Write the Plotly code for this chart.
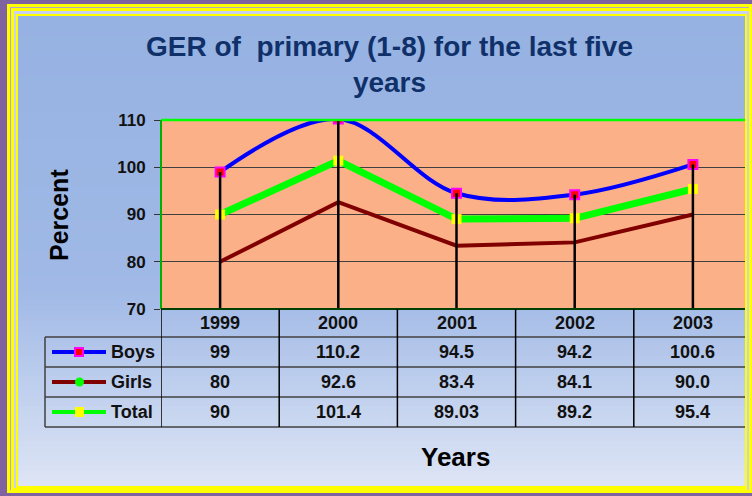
import plotly.graph_objects as go

years = ["1999", "2000", "2001", "2002", "2003"]
boys_txt = ["99", "110.2", "94.5", "94.2", "100.6"]
girls_txt = ["80", "92.6", "83.4", "84.1", "90.0"]
total_txt = ["90", "101.4", "89.03", "89.2", "95.4"]
y_ticks = [70, 80, 90, 100, 110]

boys = [float(v) for v in boys_txt]
girls = [float(v) for v in girls_txt]
total = [float(v) for v in total_txt]

FONT = "Arial, Liberation Sans, sans-serif"
W, H = 752, 496
L, T, R, B = 161, 120, 0, 187
PW, PH = W - L - R, H - T - B


def px(x):
    return (x - L) / PW


def py(y):
    return (H - B - y) / PH


shapes = []


def rect(x0, y0, x1, y1, fill, layer="below", line=None):
    shapes.append(dict(
        type="rect", xref="paper", yref="paper",
        x0=px(x0), x1=px(x1), y0=py(y1), y1=py(y0),
        fillcolor=fill, layer=layer,
        line=line or dict(width=0),
    ))


def seg(x0, y0, x1, y1, color, width, layer="above"):
    shapes.append(dict(
        type="line", xref="paper", yref="paper",
        x0=px(x0), x1=px(x1), y0=py(y0), y1=py(y1),
        line=dict(color=color, width=width), layer=layer,
    ))


# frame
rect(7, 4, 760, 493, "#ffff00")
rect(10, 7, 749, 490, "#b4a8c8")
rect(11, 8, 749, 490, "#ffff00")
rect(14, 11, 747, 488, "#c8d2ee")
rect(16, 14, 747, 488, "#ffff00")

# background gradient
stops = [(16, (150, 178, 226)), (290, (160, 185, 230)), (486, (222, 229, 245))]


def grad(y):
    for (ya, ca), (yb, cb) in zip(stops[:-1], stops[1:]):
        if y <= yb:
            t = (y - ya) / (yb - ya)
            return "rgb(%d,%d,%d)" % tuple(round(a + (b - a) * t) for a, b in zip(ca, cb))
    return "rgb(%d,%d,%d)" % stops[-1][1]


for y in range(16, 486, 5):
    rect(18, y, 745, min(y + 5, 486), grad(y + 2.5))

# plot area
rect(161, 120, 745, 309, "#fcb088")

fig = go.Figure()

fig.add_trace(go.Scatter(
    x=years, y=girls, mode="lines",
    line=dict(color="#800000", width=4),
))
fig.add_trace(go.Scatter(
    x=years, y=total, mode="lines+markers",
    line=dict(color="#00ff00", width=7),
    marker=dict(symbol="square", size=10, color="#ffff00"),
))
fig.add_trace(go.Scatter(
    x=years, y=boys, mode="lines+markers",
    line=dict(color="#0000ff", width=4, shape="spline"),
    marker=dict(symbol="square", size=9, color="#ff0000",
                line=dict(color="#ff00ff", width=2)),
))

# drop lines
dx, dy = [], []
for i, yr in enumerate(years):
    dx += [yr, yr, None]
    dy += [max(boys[i], girls[i], total[i]), y_ticks[0], None]
fig.add_trace(go.Scatter(
    x=dx, y=dy, mode="lines",
    line=dict(color="#000000", width=2.5),
))

# plot border
seg(161, 120, 745, 120, "#00ff00", 2.5)
seg(161, 120, 161, 309, "#00b000", 2)
seg(161, 309, 745, 309, "#004000", 2)

# data table lines
row_lines = [337, 367, 397, 427]
for yl in row_lines:
    seg(45, yl, 745, yl, "#404040", 1.5)
seg(45, 337, 45, 427, "#404040", 1.5)
for k in range(len(years)):
    shapes.append(dict(
        type="line", xref="x", yref="paper",
        x0=k - 0.5, x1=k - 0.5, y0=py(309), y1=py(427),
        line=dict(color="#000000", width=1.5), layer="above",
    ))

annotations = []
row_y = [352, 382, 412]
row_names = ["Boys", "Girls", "Total"]
row_text = [boys_txt, girls_txt, total_txt]
key_line = ["#0000ff", "#800000", "#00ff00"]
cell_font = dict(family=FONT, size=18, color="#111111", weight="bold")


def note(x, y, text, font, xref="paper", **kw):
    annotations.append(dict(
        x=x, xref=xref, y=y, yref="paper", text=text, showarrow=False,
        xanchor=kw.pop("xanchor", "center"), yanchor="middle", font=font, **kw,
    ))


for i, yr in enumerate(years):
    note(i, py(323), yr, cell_font, xref="x")

for name, vals, yc, lc in zip(row_names, row_text, row_y, key_line):
    note(px(109), py(yc), name, cell_font, xanchor="left")
    for i, v in enumerate(vals):
        note(i, py(yc), v, cell_font, xref="x")
    seg(52, yc, 106, yc, lc, 4)

# legend keys
rect(75, 348, 83, 356, "#ff0000", "above", dict(color="#ff00ff", width=2))
shapes.append(dict(
    type="circle", xref="paper", yref="paper",
    x0=px(75), x1=px(84), y0=py(386.5), y1=py(377.5),
    fillcolor="#00ff00", line=dict(width=0), layer="above",
))
rect(75, 407, 84, 417, "#ffff00", "above")

# right side of frame over the plot
rect(745, 14, 747, 488, "#ffff00", "above")
rect(747, 11, 749, 490, "#c8d2ee", "above")
rect(749, 4, 752, 493, "#ffff00", "above")

note(px(389), py(64), "GER of&nbsp; primary (1-8) for the last five<br>years",
     dict(family=FONT, size=28, color="#10306a", weight="bold"))
note(px(59), py(215), "Percent",
     dict(family=FONT, size=25, color="#000000", weight="bold"), textangle=-90)
note(px(455), py(457), "Years",
     dict(family=FONT, size=26, color="#000000", weight="bold"))

fig.update_layout(
    width=W, height=H,
    margin=dict(l=L, r=R, t=T, b=B, pad=0),
    paper_bgcolor="#7f62a0",
    plot_bgcolor="rgba(0,0,0,0)",
    showlegend=False,
    shapes=shapes,
    annotations=annotations,
    xaxis=dict(
        type="category", range=[-0.5, 4.5], showticklabels=False,
        showgrid=False, zeroline=False, ticks="", showline=False,
    ),
    yaxis=dict(
        range=[70, 110], tickvals=y_ticks, ticks="outside", ticklen=6,
        tickcolor="#333333", showgrid=True, gridcolor="#404040", gridwidth=1,
        zeroline=False, showline=False, ticklabelstandoff=5,
        tickfont=dict(family=FONT, size=17, color="#111111", weight="bold"),
    ),
)

fig.write_html(
    "out.html",
    config={"displayModeBar": False},
    post_script="document.body.style.margin='0';",
)
